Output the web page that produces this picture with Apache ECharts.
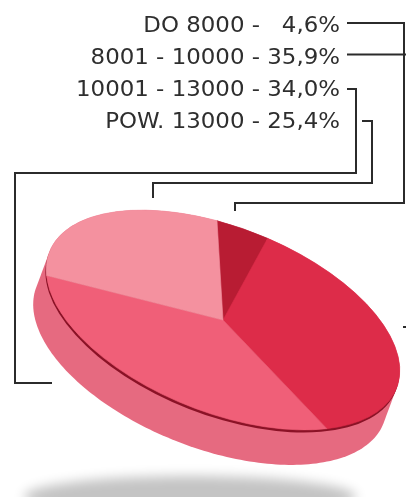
<!DOCTYPE html>
<html>
<head>
<meta charset="utf-8">
<style>html,body{margin:0;padding:0;background:#fff}#c{width:406px;height:497px}</style>
<script src="https://cdn.jsdelivr.net/npm/echarts@6/dist/echarts.min.js"></script>
</head>
<body>
<div id="c"></div>
<script>
// Wage bands and their shares, in percent
const categories = ['DO 8000', '8001 - 10000', '10001 - 13000', 'POW. 13000'];
const shares = [4.6, 35.9, 34.0, 25.4];
const sliceColors = ['#b81c33', '#dd2c49', '#f05f78', '#f4919f'];

// Tilted disc geometry: a circle of radius R squashed and turned on screen
const R = 100;
const disc = { x: 223, y: 320, sx: 1.865, sy: 0.925, turn: 21.5, start: 257 };
const depth = [-13, 35];
const rad = d => d * Math.PI / 180;

function ellipsePoint(t, dx, dy) {
  const c = Math.cos(rad(disc.turn)), s = Math.sin(rad(disc.turn));
  const u = R * disc.sx * Math.cos(t), v = R * disc.sy * Math.sin(t);
  return [disc.x + u * c - v * s + dx, disc.y + u * s + v * c + dy];
}

// Outline of the disc swept along its depth vector
function wallOutline() {
  const c = Math.cos(rad(disc.turn)), s = Math.sin(rad(disc.turn));
  const pts = [];
  for (let i = 0; i < 240; i++) {
    const t = i / 240 * 2 * Math.PI;
    const nu = Math.cos(t) / disc.sx, nv = Math.sin(t) / disc.sy;
    const nx = nu * c - nv * s, ny = nu * s + nv * c;
    const along = nx * depth[0] + ny * depth[1] > 0;
    pts.push(ellipsePoint(t, along ? depth[0] : 0, along ? depth[1] : 0));
  }
  return pts;
}

function discGroup(dx, dy, children) {
  return {
    type: 'group',
    x: disc.x + dx, y: disc.y + dy,
    rotation: -rad(disc.turn),
    scaleX: disc.sx, scaleY: disc.sy,
    children
  };
}

const total = shares.reduce((a, b) => a + b, 0);
function renderSlice(params, api) {
  const i = params.dataIndex;
  const before = shares.slice(0, i).reduce((a, b) => a + b, 0);
  const a0 = rad(disc.start + before / total * 360);
  const a1 = a0 + rad(api.value(0) / total * 360);
  return discGroup(0, 0, [{
    type: 'sector',
    shape: { cx: 0, cy: 0, r: R, r0: 0, startAngle: a0, endAngle: a1, clockwise: true },
    style: { fill: sliceColors[i], stroke: sliceColors[i], lineWidth: 0.4 }
  }]);
}

function renderBase() {
  return {
    type: 'group',
    children: [
      // Ground shadow: the ellipse itself sits off the canvas, only its blur lands on the page
      { type: 'ellipse', shape: { cx: 190 - 1000, cy: 497, rx: 166, ry: 21 },
        style: { fill: '#000', shadowBlur: 12, shadowColor: '#c4c4c4', shadowOffsetX: 1000 } },
      { type: 'polygon', shape: { points: wallOutline() }, style: { fill: '#e66a80' } },
      discGroup(-0.8, 2.6, [{ type: 'circle', shape: { cx: 0, cy: 0, r: R }, style: { fill: '#8a1226' } }])
    ]
  };
}

// Leader lines from each legend row to the disc
const leaders = [
  [[347, 23], [404, 23], [404, 203], [235, 203], [235, 211]],
  [[347, 54.5], [420, 54.5], [420, 327], [403, 327]],
  [[347, 89], [356, 89], [356, 173], [15, 173], [15, 383], [52, 383]],
  [[362, 121], [372, 121], [372, 183], [153, 183], [153, 198]]
];
const rowY = [27, 59, 91, 123];

function rowText(i) {
  const v = shares[i].toFixed(1).replace('.', ',');
  return categories[i] + ' - ' + (shares[i] < 10 ? '  ' : '') + v + '%';
}

const chart = echarts.init(document.getElementById('c'), null, { renderer: 'canvas' });
chart.setOption({
  animation: false,
  backgroundColor: '#fff',
  series: [
    { type: 'custom', coordinateSystem: 'none', silent: true, z: 1, data: [0], renderItem: renderBase },
    { type: 'custom', coordinateSystem: 'none', silent: true, z: 2, data: shares.map(v => [v]), renderItem: renderSlice }
  ],
  graphic: [
    ...leaders.map(points => ({
      type: 'polyline', silent: true, z: 5, shape: { points },
      style: { fill: null, stroke: '#2b2b2b', lineWidth: 2 }
    })),
    ...categories.map((c, i) => ({
      type: 'text', silent: true, z: 5, x: 340, y: rowY[i], scaleX: 1.09,
      style: {
        text: rowText(i), fill: '#2e2e2e', align: 'right', verticalAlign: 'middle',
        font: '21px "DejaVu Sans"'
      }
    }))
  ]
});
</script>
</body>
</html>
